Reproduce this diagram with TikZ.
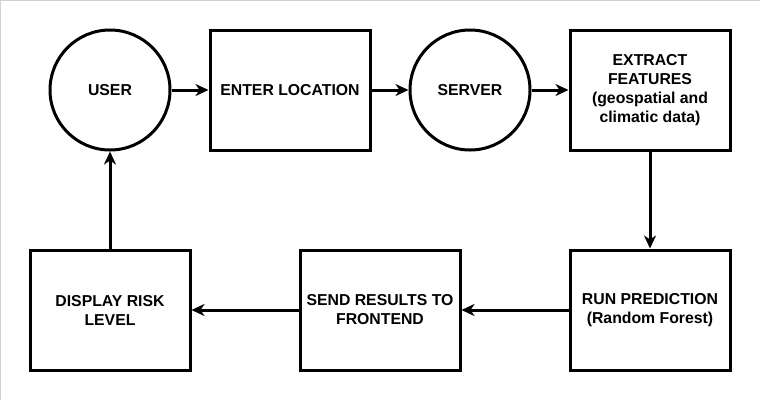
\documentclass[tikz,border=0pt]{standalone}
\usepackage{fontspec}
\setmainfont{Liberation Sans}
\usetikzlibrary{arrows.meta}
\begin{document}
\begin{tikzpicture}[x=1pt,y=-1pt,
  every node/.style={font=\bfseries\fontsize{15.8}{19}\selectfont, align=center, inner sep=0pt},
  boxnode/.style={draw, line width=3pt, minimum width=160pt, minimum height=120pt},
  circnode/.style={draw, circle, line width=3pt, minimum size=120pt},
  flow/.style={line width=3pt, -{Stealth[length=13pt,width=12pt,inset=4pt]}}]
\useasboundingbox (0,0) rectangle (760,400);
\fill[white] (0,0) rectangle (760,400);
\draw[line width=1pt, color=black!18] (0.5,400) -- (0.5,0.5) -- (760,0.5);
\node[circnode] (user) at (110,90) {USER};
\node[boxnode] (enter) at (290,90) {ENTER LOCATION};
\node[circnode] (server) at (470,90) {SERVER};
\node[boxnode] (extract) at (650,90) {EXTRACT\\FEATURES\\(geospatial and\\climatic data)};
\node[boxnode] (run) at (650,310) {RUN PREDICTION\\(Random Forest)};
\node[boxnode] (send) at (380,310) {SEND RESULTS TO\\FRONTEND};
\node[boxnode] (display) at (110,310) {DISPLAY RISK\\LEVEL};
\draw[flow] (user) -- (enter);
\draw[flow] (enter) -- (server);
\draw[flow] (server) -- (extract);
\draw[flow] (extract) -- (run);
\draw[flow] (run) -- (send);
\draw[flow] (send) -- (display);
\draw[flow] (display) -- (user);
\end{tikzpicture}
\end{document}
